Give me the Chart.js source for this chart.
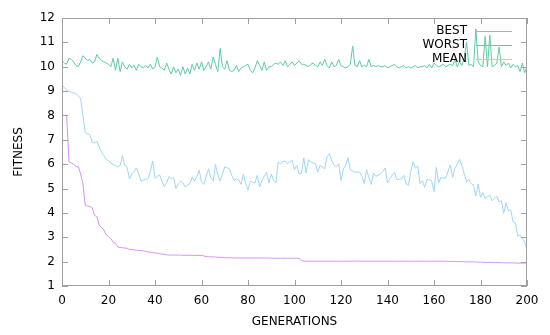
<!DOCTYPE html>
<html>
<head>
<meta charset="utf-8">
<script src="https://cdn.jsdelivr.net/npm/chart.js@4.4.0/dist/chart.umd.min.js"></script>
<style>
  html, body { margin: 0; padding: 0; background: #fff; }
  #wrap { width: 550px; height: 335px; position: relative; }
</style>
</head>
<body>
<div id="wrap"><canvas id="fitchart"></canvas></div>
<script>
// tick labels
var xTicks = [0, 20, 40, 60, 80, 100, 120, 140, 160, 180, 200];
var yTicks = [1, 2, 3, 4, 5, 6, 7, 8, 9, 10, 11, 12];

// generations 0..200
var generations = [];
for (var g = 0; g <= 200; g++) generations.push(g);

var seriesNames = ['BEST', 'WORST', 'MEAN'];
var seriesColors = ['#d592f0', '#5ccca2', '#9ed6f6'];

var best = [
  8.0, 8.0, 8.0, 6.1, 6.05, 6.0, 5.9, 5.9, 5.6, 5.2,
  4.3, 4.28, 4.27, 4.2, 3.9, 3.85, 3.5, 3.4, 3.3, 3.1,
  3.02, 2.95, 2.8, 2.75, 2.6, 2.58, 2.57, 2.56, 2.55, 2.5,
  2.5, 2.48, 2.47, 2.46, 2.45, 2.44, 2.42, 2.4, 2.38, 2.37,
  2.36, 2.34, 2.32, 2.31, 2.3, 2.28, 2.27, 2.27, 2.27, 2.27,
  2.27, 2.27, 2.26, 2.26, 2.26, 2.26, 2.26, 2.25, 2.25, 2.25,
  2.25, 2.24, 2.2, 2.2, 2.2, 2.19, 2.19, 2.18, 2.18, 2.17,
  2.16, 2.16, 2.16, 2.16, 2.15, 2.15, 2.15, 2.15, 2.15, 2.15,
  2.15, 2.15, 2.15, 2.15, 2.15, 2.15, 2.15, 2.15, 2.15, 2.15,
  2.14, 2.14, 2.14, 2.14, 2.14, 2.14, 2.14, 2.14, 2.14, 2.14,
  2.14, 2.14, 2.13, 2.04, 2.02, 2.02, 2.02, 2.02, 2.02, 2.02,
  2.02, 2.02, 2.02, 2.02, 2.02, 2.02, 2.02, 2.02, 2.02, 2.02,
  2.02, 2.02, 2.02, 2.02, 2.02, 2.02, 2.02, 2.02, 2.02, 2.02,
  2.02, 2.02, 2.02, 2.02, 2.02, 2.02, 2.02, 2.02, 2.02, 2.02,
  2.02, 2.02, 2.02, 2.02, 2.02, 2.02, 2.02, 2.02, 2.02, 2.02,
  2.02, 2.02, 2.02, 2.02, 2.02, 2.02, 2.02, 2.02, 2.02, 2.02,
  2.02, 2.02, 2.02, 2.02, 2.02, 2.02, 2.01, 2.01, 2.01, 2.01,
  2.0, 2.0, 2.0, 2.0, 1.99, 1.99, 1.99, 1.99, 1.98, 1.98,
  1.98, 1.98, 1.97, 1.97, 1.97, 1.97, 1.96, 1.96, 1.96, 1.96,
  1.95, 1.95, 1.95, 1.95, 1.95, 1.94, 1.94, 1.94, 1.94, 1.94,
  1.94
];

var worst = [
  10.25, 10.15, 10.1, 10.35, 10.3, 10.2, 10.05, 10.0, 10.2, 10.45,
  10.35, 10.25, 10.3, 10.15, 10.2, 10.5, 10.35, 10.25, 10.2, 10.15,
  10.1, 10.0, 10.35, 9.85, 10.35, 9.8, 10.2, 10.0, 9.9, 10.1,
  9.95, 10.05, 9.85, 10.1, 10.0, 9.95, 10.05, 9.95, 10.1, 9.9,
  10.0, 10.4, 10.0, 9.95, 9.85, 10.15, 9.9, 9.7, 10.0, 9.75,
  9.9, 9.65, 10.0, 9.7, 9.95, 9.7, 10.1, 9.85, 10.15, 9.9,
  10.2, 9.85, 10.0, 10.2, 9.9, 10.4, 10.1, 9.8, 10.75, 10.0,
  9.9, 10.25, 9.85, 9.8, 9.85, 10.05, 9.8, 9.95, 10.0, 10.05,
  10.1, 9.85, 9.75, 9.95, 10.25, 10.05, 9.85, 10.2, 9.85, 10.0,
  10.0, 10.1, 10.15, 10.1, 10.2, 10.05, 10.25, 10.0, 10.1, 10.2,
  10.05, 10.15, 10.25, 10.1, 10.1, 10.05, 10.0, 10.1, 10.15, 10.05,
  10.0, 10.2, 10.05, 10.3, 10.05, 9.95, 10.2, 10.0, 10.05, 10.3,
  10.05, 10.0, 9.95, 10.0, 10.1, 10.85, 10.05, 10.0, 10.25, 10.0,
  10.05, 10.0, 10.3, 10.0, 10.05, 10.0, 10.05, 10.0, 10.0, 10.05,
  9.95, 10.0, 10.05, 10.1, 10.0, 9.95, 10.0, 10.05, 9.95, 10.0,
  9.95, 10.0, 10.05, 9.95, 10.0, 10.0, 10.05, 9.95, 10.1, 9.95,
  10.15, 10.05, 10.0, 10.05, 10.1, 10.0, 10.05, 10.1, 10.05, 10.3,
  10.0, 10.2, 10.05, 10.35, 11.0, 10.05, 10.1, 10.0, 11.55, 10.2,
  10.05, 10.0, 11.25, 10.0, 11.3, 10.0, 10.05, 10.15, 10.8, 10.0,
  10.2, 10.05, 10.15, 9.95, 10.1, 10.0, 10.05, 9.8, 10.15, 9.75,
  10.0
];

var mean = [
  9.26, 9.15, 9.05, 9.0, 8.95, 8.92, 8.9, 8.8, 8.7, 8.0,
  7.3, 7.25, 7.2, 6.9, 6.88, 6.95, 6.7, 6.5, 6.35, 6.2,
  6.15, 6.05, 5.98, 5.95, 5.88, 5.95, 6.35, 5.95, 5.88, 5.4,
  5.6, 5.7, 5.85, 5.6, 5.3, 5.35, 5.38, 5.4, 5.7, 6.13,
  5.42, 5.5, 5.56, 5.3, 5.08, 5.25, 5.49, 5.4, 5.45, 5.0,
  5.2, 5.31, 5.23, 5.06, 5.15, 5.2, 5.47, 5.3, 5.5, 5.75,
  5.27, 5.17, 5.5, 5.81, 5.45, 5.3, 5.99, 5.6, 5.3, 5.6,
  5.9, 5.85, 5.81, 5.55, 5.33, 5.4, 5.35, 5.17, 5.58, 5.2,
  4.95, 5.3, 5.25, 5.23, 5.54, 5.06, 5.33, 5.5, 5.67, 5.23,
  5.6, 5.35, 5.23, 6.09, 6.02, 6.1, 6.13, 6.02, 6.1, 6.16,
  5.78, 5.95, 5.6, 5.63, 6.26, 5.63, 6.18, 6.1, 6.05, 6.02,
  5.67, 5.95, 5.88, 5.81, 6.3, 6.43, 6.16, 5.95, 5.9, 6.02,
  5.33, 5.8, 5.95, 6.26, 5.77, 5.72, 5.67, 5.68, 5.67, 5.5,
  5.2, 5.77, 5.45, 5.17, 5.63, 5.5, 5.55, 5.6, 5.7, 5.85,
  5.23, 5.4, 5.55, 5.67, 5.36, 5.38, 5.4, 5.54, 5.2, 5.13,
  5.67, 6.1, 5.83, 5.93, 5.19, 5.32, 5.05, 5.38, 5.35, 5.32,
  4.87, 5.87, 5.24, 5.46, 5.44, 5.42, 5.7, 5.97, 5.46, 5.83,
  6.0, 6.2, 5.95, 5.6, 5.28, 5.38, 5.2, 5.15, 4.69, 5.19,
  4.64, 4.83, 4.6, 4.65, 4.73, 4.5, 4.6, 4.69, 4.46, 4.5,
  3.98, 4.42, 4.09, 4.12, 3.64, 3.6, 3.05, 3.09, 2.95, 2.8,
  2.47
];

var FONT = 'DejaVu Sans';

function pairs(values) {
  return values.map(function(v, i) { return { x: generations[i], y: v }; });
}

// gnuplot-like frame with inward ticks on all four sides
var framePlugin = {
  id: 'frame',
  afterDatasetsDraw: function(chart) {
    var ctx = chart.ctx, a = chart.chartArea;
    var xs = chart.scales.x, ys = chart.scales.y;
    var len = 6;
    ctx.save();
    ctx.strokeStyle = '#a0a0a0';
    ctx.lineWidth = 1;
    ctx.strokeRect(a.left + 0.5, a.top + 0.5, a.right - a.left - 1, a.bottom - a.top - 1);
    ctx.beginPath();
    xTicks.forEach(function(t) {
      var px = Math.round(xs.getPixelForValue(t)) + 0.5;
      ctx.moveTo(px, a.bottom); ctx.lineTo(px, a.bottom - len);
      ctx.moveTo(px, a.top); ctx.lineTo(px, a.top + len);
    });
    yTicks.forEach(function(t) {
      var py = Math.round(ys.getPixelForValue(t)) + 0.5;
      ctx.moveTo(a.left, py); ctx.lineTo(a.left + len, py);
      ctx.moveTo(a.right, py); ctx.lineTo(a.right - len, py);
    });
    ctx.stroke();
    ctx.restore();
  }
};

// legend: label right-aligned, sample line to its right
var keyPlugin = {
  id: 'key',
  afterDraw: function(chart) {
    var ctx = chart.ctx, a = chart.chartArea;
    var textRight = a.right - 60, lineStart = a.right - 51, lineEnd = a.right - 15;
    ctx.save();
    ctx.font = '12px "' + FONT + '"';
    ctx.textAlign = 'right';
    ctx.textBaseline = 'middle';
    chart.data.datasets.forEach(function(ds, i) {
      var y = a.top + 13 + i * 14;
      ctx.fillStyle = '#000';
      ctx.fillText(ds.label, textRight, y);
      ctx.strokeStyle = ds.borderColor;
      ctx.lineWidth = 1;
      ctx.beginPath();
      ctx.moveTo(lineStart, Math.round(y) + 0.5);
      ctx.lineTo(lineEnd, Math.round(y) + 0.5);
      ctx.stroke();
    });
    ctx.restore();
  }
};

var ctx = document.getElementById('fitchart').getContext('2d');

new Chart(ctx, {
  type: 'line',
  data: {
    datasets: [best, worst, mean].map(function(vals, i) {
      return {
        label: seriesNames[i],
        data: pairs(vals),
        borderColor: seriesColors[i],
        borderWidth: 1,
        pointRadius: 0,
        tension: 0,
        fill: false
      };
    })
  },
  options: {
    responsive: true,
    maintainAspectRatio: false,
    animation: false,
    layout: { padding: { top: 18, right: 23, left: 0, bottom: 0 } },
    plugins: {
      legend: { display: false },
      tooltip: { enabled: false }
    },
    scales: {
      x: {
        type: 'linear',
        min: 0,
        max: 200,
        afterBuildTicks: function(s) { s.ticks = xTicks.map(function(v) { return { value: v }; }); },
        afterFit: function(s) { s.height = 49; },
        grid: { display: false, drawTicks: false },
        border: { display: false },
        ticks: { padding: 8, color: '#000', font: { family: FONT, size: 12 }, maxRotation: 0 },
        title: { display: true, text: 'GENERATIONS', color: '#000', font: { family: FONT, size: 12 }, padding: { top: 0, bottom: 6 } }
      },
      y: {
        min: 1,
        max: 12,
        afterBuildTicks: function(s) { s.ticks = yTicks.map(function(v) { return { value: v }; }); },
        afterFit: function(s) { s.width = 62; },
        grid: { display: false, drawTicks: false },
        border: { display: false },
        ticks: { padding: 7, color: '#000', font: { family: FONT, size: 12 } },
        title: { display: true, text: 'FITNESS', color: '#000', font: { family: FONT, size: 12 }, padding: { top: 12, bottom: 0 } }
      }
    }
  },
  plugins: [framePlugin, keyPlugin]
});
</script>
</body>
</html>
